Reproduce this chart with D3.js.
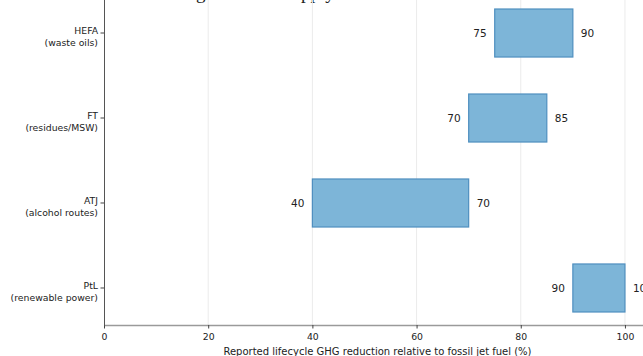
<!DOCTYPE html>
<html>
<head>
<meta charset="utf-8">
<script src="https://cdn.jsdelivr.net/npm/d3@7/dist/d3.min.js"></script>
<style>
  html, body { margin: 0; padding: 0; background: #fff; }
  svg { display: block; }
  text { font-family: "DejaVu Sans", sans-serif; fill: #222; }
</style>
</head>
<body>
<svg id="chart" width="643" height="356"></svg>
<script>
// Reported lifecycle GHG reduction ranges by SAF pathway (%)
const pathways = ["HEFA", "FT", "ATJ", "PtL"];
const feedstocks = ["(waste oils)", "(residues/MSW)", "(alcohol routes)", "(renewable power)"];
const lowValues = [75, 70, 40, 90];
const highValues = [90, 85, 70, 100];
const xTicks = [0, 20, 40, 60, 80, 100];
const titleText = "GHG savings for SAF supply routes";
const xLabel = "Reported lifecycle GHG reduction relative to fossil jet fuel (%)";

const rows = pathways.map((p, i) => ({
  name: p, sub: feedstocks[i], lo: lowValues[i], hi: highValues[i]
}));

const svg = d3.select("#chart");
const plot = { left: 104, right: 651, top: -4, bottom: 325 };

const x = d3.scaleLinear().domain([0, 105]).range([plot.left, plot.right]);
const y = d3.scaleBand()
  .domain(pathways)
  .range([plot.top, plot.bottom])
  .paddingInner(0.435)
  .paddingOuter(0.153);

// title (sits above the plot area)
svg.append("text")
  .attr("x", 110).attr("y", -1)
  .attr("font-size", 19)
  .style("font-family", "'Liberation Serif', serif")
  .text(titleText);

// vertical grid lines
svg.append("g")
  .selectAll("line")
  .data(xTicks.slice(1))
  .join("line")
  .attr("x1", d => x(d)).attr("x2", d => x(d))
  .attr("y1", plot.top).attr("y2", plot.bottom)
  .attr("stroke", "#ebebeb").attr("stroke-width", 1);

// range bars
svg.append("g")
  .selectAll("rect")
  .data(rows)
  .join("rect")
  .attr("x", d => x(d.lo))
  .attr("y", d => y(d.name))
  .attr("width", d => x(d.hi) - x(d.lo))
  .attr("height", y.bandwidth())
  .attr("fill", "#7db5d8")
  .attr("stroke", "#4f8fbf")
  .attr("stroke-width", 1.2);

// value labels at both ends of each bar
const labels = svg.append("g").attr("font-size", 10.5);
labels.selectAll("text.lo")
  .data(rows)
  .join("text")
  .attr("class", "lo")
  .attr("x", d => x(d.lo) - 8)
  .attr("y", d => y(d.name) + y.bandwidth() / 2)
  .attr("dy", "0.35em")
  .attr("text-anchor", "end")
  .text(d => d.lo);
labels.selectAll("text.hi")
  .data(rows)
  .join("text")
  .attr("class", "hi")
  .attr("x", d => x(d.hi) + 8)
  .attr("y", d => y(d.name) + y.bandwidth() / 2)
  .attr("dy", "0.35em")
  .attr("text-anchor", "start")
  .text(d => d.hi);

// x axis
const xAxis = svg.append("g")
  .attr("transform", `translate(0,${plot.bottom})`)
  .call(d3.axisBottom(x).tickValues(xTicks).tickSize(3.5).tickPadding(4.5).tickSizeOuter(0));
xAxis.select(".domain").attr("stroke", "#9a9a9a").attr("stroke-width", 1.6);
xAxis.selectAll(".tick line").attr("stroke", "#444");
xAxis.selectAll(".tick text").attr("font-size", 9.3).attr("fill", "#222")
  .style("font-family", "'DejaVu Sans', sans-serif");

svg.append("text")
  .attr("x", (plot.left + plot.right) / 2)
  .attr("y", 354.5)
  .attr("text-anchor", "middle")
  .attr("font-size", 10)
  .text(xLabel);

// y axis with two-line category labels
const yAxis = svg.append("g")
  .attr("transform", `translate(${plot.left},0)`)
  .call(d3.axisLeft(y).tickSize(3.5).tickSizeOuter(0).tickFormat(""));
yAxis.select(".domain").attr("stroke", "#555").attr("stroke-width", 1);
yAxis.selectAll(".tick line").attr("stroke", "#444");

const yLab = svg.append("g").attr("font-size", 9.3).attr("text-anchor", "end");
yLab.selectAll("text")
  .data(rows)
  .join("text")
  .attr("x", plot.left - 6)
  .attr("y", d => y(d.name) + y.bandwidth() / 2)
  .each(function (d) {
    const t = d3.select(this);
    t.append("tspan").attr("x", plot.left - 6).attr("dy", "0.1em").text(d.name);
    t.append("tspan").attr("x", plot.left - 6).attr("dy", "1.25em").text(d.sub);
  });
</script>
</body>
</html>
